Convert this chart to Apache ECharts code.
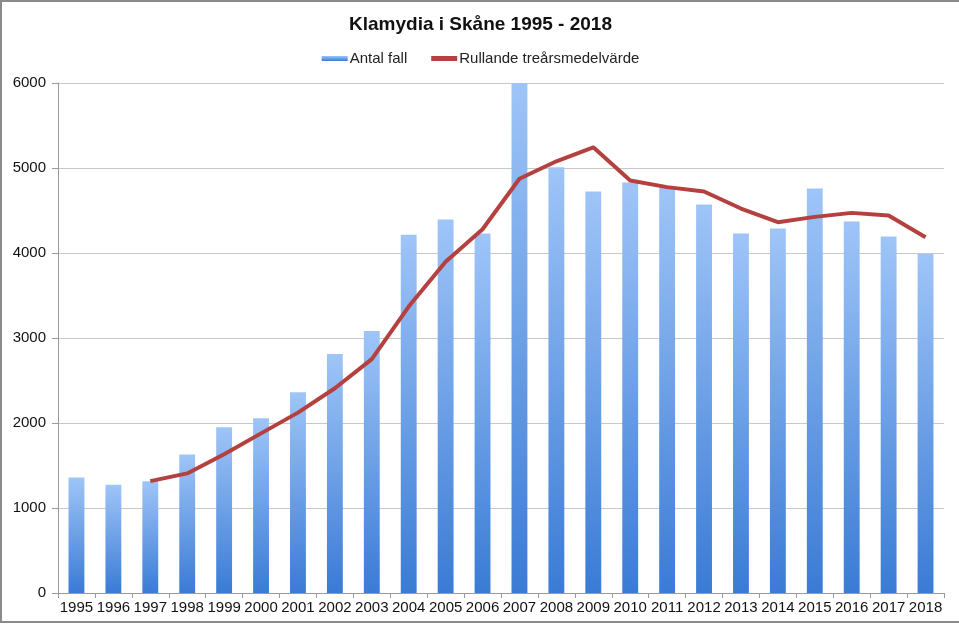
<!DOCTYPE html>
<html>
<head>
<meta charset="utf-8">
<script src="https://cdn.jsdelivr.net/npm/echarts@6/dist/echarts.min.js"></script>
<style>
  html, body { margin: 0; padding: 0; background: #fff; overflow: hidden; }
  #wrap {
    width: 957px; height: 619px;
    border-top: 2px solid #8a8a8a;
    border-left: 2px solid #8a8a8a;
    border-bottom: 2px solid #8a8a8a;
  }
  #main { width: 957px; height: 619px; }
</style>
</head>
<body>
<div id="wrap"><div id="main"></div></div>
<script>
// years on the x axis
var years = ['1995','1996','1997','1998','1999','2000','2001','2002','2003','2004','2005','2006',
             '2007','2008','2009','2010','2011','2012','2013','2014','2015','2016','2017','2018'];
// Antal fall (bars)
var cases = [1358, 1275, 1315, 1630, 1950, 2055, 2362, 2811, 3083, 4216, 4394, 4228,
             6000, 5008, 4724, 4830, 4771, 4571, 4228, 4287, 4760, 4370, 4193, 3992];
// Rullande treårsmedelvärde (line), nothing for the first two years
var rolling = [null, null, 1316, 1407, 1632, 1878, 2122, 2409, 2752, 3370, 3898, 4279,
               4874, 5079, 5244, 4854, 4775, 4724, 4523, 4362, 4425, 4472, 4441, 4185];

var chart = echarts.init(document.getElementById('main'));
chart.setOption({
  animation: false,
  textStyle: { fontFamily: 'Liberation Sans, Arial, sans-serif' },
  title: {
    text: 'Klamydia i Skåne 1995 - 2018',
    left: 'center',
    top: 8,
    textStyle: { fontSize: 19, fontWeight: 'bold', color: '#111' }
  },
  legend: {
    top: 44,
    left: 'center',
    itemWidth: 26,
    itemHeight: 5,
    itemGap: 24,
    textStyle: { fontSize: 15, color: '#222', padding: [0, 0, 0, -3] },
    data: [
      { name: 'Antal fall', icon: 'rect' },
      { name: 'Rullande treårsmedelvärde', icon: 'rect' }
    ]
  },
  grid: { left: 56, right: 15, top: 81, bottom: 28, containLabel: false },
  xAxis: {
    type: 'category',
    data: years,
    boundaryGap: true,
    axisLine: { lineStyle: { color: '#9a9a9a' } },
    axisTick: { show: true, length: 5, lineStyle: { color: '#9a9a9a' } },
    axisLabel: { fontSize: 15, color: '#111', margin: 7, interval: 0 }
  },
  yAxis: {
    type: 'value',
    min: 0,
    max: 6000,
    interval: 1000,
    axisLine: { show: true, lineStyle: { color: '#9a9a9a' } },
    axisTick: { show: true, length: 6, lineStyle: { color: '#9a9a9a' } },
    axisLabel: { fontSize: 15, color: '#111', margin: 12, formatter: function (v) { return String(v); } },
    splitLine: { lineStyle: { color: '#c8c8c8', width: 1 } }
  },
  series: [
    {
      name: 'Antal fall',
      type: 'bar',
      data: cases,
      barWidth: '43%',
      itemStyle: {
        color: new echarts.graphic.LinearGradient(0, 0, 0, 1, [
          { offset: 0, color: '#9fc5f8' },
          { offset: 1, color: '#3a7bd5' }
        ])
      }
    },
    {
      name: 'Rullande treårsmedelvärde',
      type: 'line',
      data: rolling,
      symbol: 'none',
      connectNulls: false,
      lineStyle: { color: '#b4413f', width: 4 },
      itemStyle: { color: '#b4413f' }
    }
  ]
});
</script>
</body>
</html>
